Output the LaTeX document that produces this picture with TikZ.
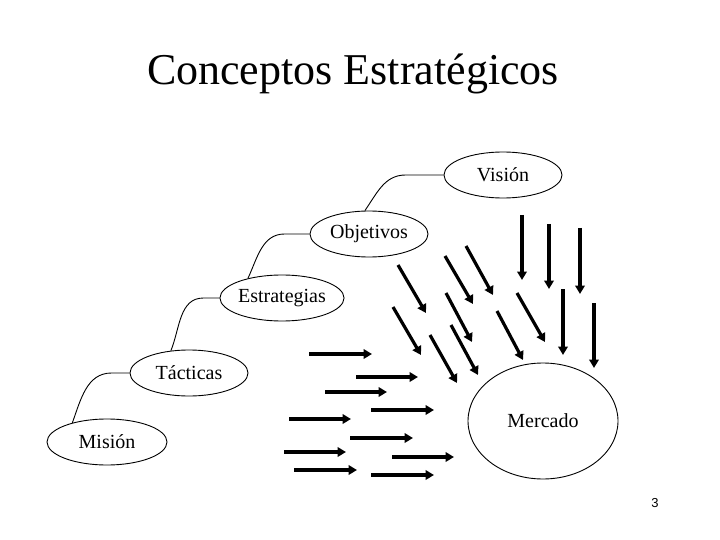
\documentclass[tikz,border=0pt]{standalone}
\usepackage{fontspec}
\setmainfont{Liberation Serif}
\newfontfamily\pagefont{Liberation Sans}
\usetikzlibrary{shapes.geometric,arrows.meta,calc}
\begin{document}
\begin{tikzpicture}[x=1pt,y=-1pt,
  oval/.style={ellipse, draw, line width=0.9pt, inner sep=0pt,
    minimum width=118pt, minimum height=46pt,
    font=\fontsize{20}{23}\selectfont},
  link/.style={line width=0.9pt},
  arr/.style={line width=3.2pt, -{Triangle[length=8.5pt,width=9.5pt]}}]
\useasboundingbox (0,0) rectangle (720,540);
\node[anchor=base, font=\fontsize{44}{50}\selectfont] (title) at (353,85) {Conceptos Estratégicos};
\node[oval] (vis) at (503,175) {Visión};
\node[oval] (obj) at (369,234) {Objetivos};
\node[oval] (est) at (282,298) {Estrategias};
\node[oval] (tac) at (189,373) {Tácticas};
\node[oval, minimum width=120pt] (mis) at (107,442) {Misión};
\node[ellipse, draw, line width=0.9pt, minimum width=150pt, minimum height=116pt,
  font=\fontsize{20}{23}\selectfont] (mer) at (543,421) {Mercado};
\node[font=\pagefont\fontsize{13}{15}\selectfont] (pg) at (655,503) {3};
% connectors
\draw[link] (mis.151) to[out=70,in=180] ($(tac.west)+(-18,0)$) -- (tac.west);
\draw[link] (tac.129) to[out=68,in=180] ($(est.west)+(-16,0)$) -- (est.west);
\draw[link] (est.150) to[out=65,in=180] ($(obj.west)+(-25,0)$) -- (obj.west);
\draw[link] (obj.100) to[out=55,in=180] ($(vis.west)+(-38,0)$) -- (vis.west);
% horizontal arrows
\foreach \xa/\xb/\yy in {309/372/354, 356/418/377, 325/387/392, 371/434/410,
  289/351/419, 350/413/438, 284/346/452, 392/454/457, 294/357/470, 371/434/475}
  \draw[arr] (\xa,\yy) -- (\xb,\yy);
% diagonal arrows
\foreach \xa/\ya/\xb/\yb in {398/265/426/313, 445/256/473/304, 466/246/493/295,
  446/293/472/342, 393/307/421/355, 430/335/457/383, 451/325/478/375,
  497/311/523/360, 517/293/545/342}
  \draw[arr] (\xa,\ya) -- (\xb,\yb);
% vertical arrows
\foreach \xx/\ya/\yb in {522/215/280, 549/224/289, 580/228/294, 563/289/355, 594/303/368}
  \draw[arr] (\xx,\ya) -- (\xx,\yb);
\end{tikzpicture}
\end{document}
